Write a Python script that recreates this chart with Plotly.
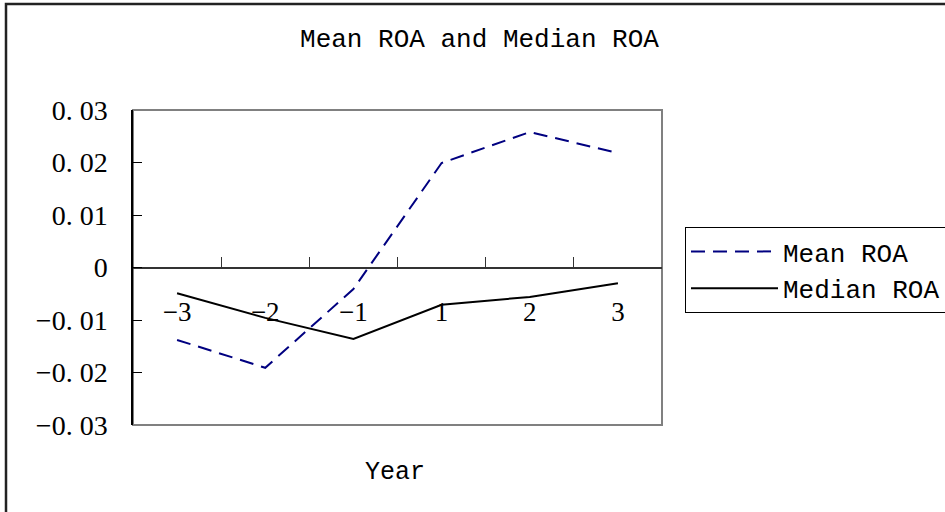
import plotly.graph_objects as go

years = ["−3", "−2", "−1", "1", "2", "3"]
mean_roa = [-0.0138, -0.0191, -0.0041, 0.0199, 0.0258, 0.0218]
median_roa = [-0.0049, -0.0096, -0.0136, -0.0071, -0.0056, -0.0030]
y_tickvals = [0.03, 0.02, 0.01, 0, -0.01, -0.02, -0.03]
y_ticktext = ["0. 03", "0. 02", "0. 01", "0", "−0. 01", "−0. 02", "−0. 03"]
y_range = [-0.03, 0.03]

W, H = 945, 512
L, R, T, B = 133, 283, 110, 87
pw, ph = W - L - R, H - T - B

TEXT_FONT = "Liberation Mono"
NUM_FONT = "Liberation Serif"

fig = go.Figure()
fig.add_trace(go.Scatter(
    x=years, y=mean_roa, mode="lines", name="Mean ROA",
    line=dict(color="#000080", width=2, dash="14px,8px"),
))
fig.add_trace(go.Scatter(
    x=years, y=median_roa, mode="lines", name="Median ROA",
    line=dict(color="#000000", width=2),
))

zero_pos = (0 - y_range[0]) / (y_range[1] - y_range[0])

fig.update_layout(
    width=W, height=H,
    margin=dict(l=L, r=R, t=T, b=B, autoexpand=False),
    paper_bgcolor="white", plot_bgcolor="white",
    title=dict(text="Mean ROA and Median ROA", x=479.5 / W, xanchor="center",
               y=1 - 38 / H, yanchor="middle", yref="container",
               font=dict(family=TEXT_FONT, size=26, color="black")),
    xaxis=dict(
        type="category", categoryorder="array", categoryarray=years,
        range=[-0.5, len(years) - 0.5],
        anchor="free", position=zero_pos,
        showline=True, linecolor="#333333", linewidth=1.5,
        ticks="inside", ticklen=10, tickcolor="#333333", tickwidth=1.2,
        tickson="boundaries", showgrid=False, zeroline=False,
        ticklabelstandoff=20,
        tickfont=dict(family=NUM_FONT, size=27, color="black"),
    ),
    yaxis=dict(
        range=y_range, tickvals=y_tickvals, ticktext=y_ticktext,
        showline=True, linecolor="black", linewidth=1.5,
        ticks="inside", ticklen=9, tickcolor="black", tickwidth=1.2,
        showgrid=False, zeroline=False, ticklabelstandoff=18,
        tickfont=dict(family=NUM_FONT, size=28, color="black"),
    ),
    legend=dict(
        x=(685 - L) / pw, xanchor="left",
        y=(H - B - 227) / ph, yanchor="top",
        bordercolor="black", borderwidth=1, bgcolor="white",
        font=dict(family=TEXT_FONT, size=26, color="black"),
        itemwidth=87, tracegroupgap=0,
    ),
    showlegend=True,
    annotations=[dict(
        text="Year", xref="paper", yref="paper",
        x=(395 - L) / pw, y=(H - B - 473) / ph,
        xanchor="center", yanchor="middle", showarrow=False,
        font=dict(family=TEXT_FONT, size=25, color="black"),
    )],
    shapes=[
        dict(type="rect", xref="paper", yref="paper", x0=0, x1=1, y0=0, y1=1,
             line=dict(color="#808080", width=2), layer="below"),
        dict(type="rect", xref="paper", yref="paper",
             x0=(6 - L) / pw, x1=2.0, y0=-1.0, y1=(H - B - 4) / ph,
             line=dict(color="#222222", width=2.5), layer="below"),
    ],
)

fig.write_html("out.html")
